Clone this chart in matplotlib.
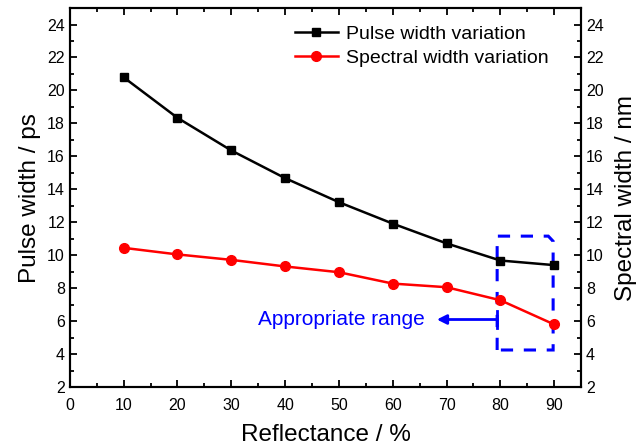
import matplotlib
matplotlib.use("Agg")
import matplotlib.pyplot as plt
from matplotlib.ticker import MultipleLocator
from matplotlib.patches import Polygon

plt.rcParams["font.family"] = ["Liberation Sans", "DejaVu Sans"]

reflectance = [10, 20, 30, 40, 50, 60, 70, 80, 90]
pulse_width = [20.8, 18.34, 16.36, 14.68, 13.22, 11.92, 10.72, 9.68, 9.40]
spectral_width = [10.45, 10.05, 9.72, 9.32, 8.97, 8.28, 8.06, 7.27, 5.80]

fig = plt.figure(figsize=(6.4, 4.48), dpi=100)
ax = fig.add_axes([0.109, 0.136, 0.799, 0.846])

ax.plot(reflectance, pulse_width, color="black", marker="s", ms=6, lw=1.8,
        label="Pulse width variation")
ax.plot(reflectance, spectral_width, color="red", marker="o", ms=7, lw=1.8,
        label="Spectral width variation")

ax.set_xlim(0, 95)
ax.set_ylim(2, 25)
ax.xaxis.set_major_locator(MultipleLocator(10))
ax.xaxis.set_minor_locator(MultipleLocator(5))
ax.set_yticks(range(2, 25, 2))
ax.yaxis.set_minor_locator(MultipleLocator(1))
ax.tick_params(which="both", direction="in", top=True, width=1.3, labelsize=11.5)
ax.tick_params(which="major", length=5)
ax.tick_params(which="minor", length=3)
ax.tick_params(axis="x", pad=8)
for s in ax.spines.values():
    s.set_linewidth(1.5)

ax.set_xlabel("Reflectance / %", fontsize=17.5, labelpad=8)
ax.set_ylabel("Pulse width / ps", fontsize=17.5, labelpad=4)

ax2 = ax.twinx()
ax2.set_ylim(2, 25)
ax2.set_yticks(range(2, 25, 2))
ax2.yaxis.set_minor_locator(MultipleLocator(1))
ax2.tick_params(which="both", direction="in", width=1.3, labelsize=11.5)
ax2.tick_params(which="major", length=5)
ax2.tick_params(which="minor", length=3)
ax2.set_ylabel("Spectral width / nm", fontsize=17.5, labelpad=8)
for s in ax2.spines.values():
    s.set_linewidth(1.5)

ax.legend(loc="upper right", bbox_to_anchor=(0.97, 1.0), frameon=False,
          fontsize=14, handlelength=2.2, handletextpad=0.4, labelspacing=0.3)

# dashed box around the high-reflectance points, top-right corner cut off
box = [(79.4, 4.25), (79.4, 11.16), (88.9, 11.16), (89.8, 10.85), (89.8, 4.25)]
ax.add_patch(Polygon(box, closed=True, fill=False, edgecolor="blue",
                     lw=2.2, ls=(0, (4, 3.5))))

ax.annotate("", xy=(68.2, 6.1), xytext=(79.4, 6.1),
            arrowprops=dict(arrowstyle="-|>", color="blue", lw=2,
                            mutation_scale=14, shrinkA=0, shrinkB=0))
ax.plot([79.4, 79.4], [5.6, 6.6], color="blue", lw=2)
ax.text(66.0, 6.1, "Appropriate range", color="blue", fontsize=15,
        ha="right", va="center")

fig.savefig("out.png", dpi=100)
